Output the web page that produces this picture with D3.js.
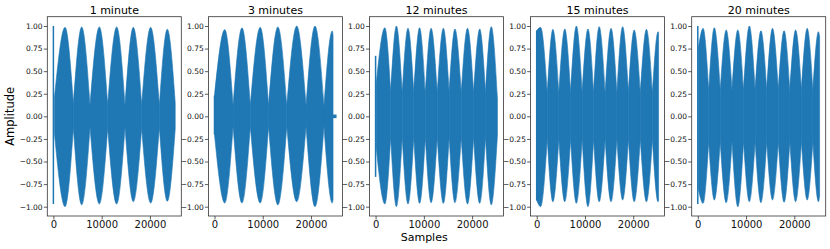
<!DOCTYPE html>
<html>
<head>
<meta charset="utf-8">
<script src="https://cdn.jsdelivr.net/npm/d3@7"></script>
<style>
  body { margin: 0; background: #fff; }
  svg { display: block; font-family: "DejaVu Sans", sans-serif; }
</style>
</head>
<body>
<div id="container"></div>
<script>
/**
 * CONSTANTS AND GLOBALS
 * */
const width = 830,
    height = 249,
    margin = { top: 16.7, bottom: 33, left: 47.3 },
    panelWidth = 134,
    panelStep = 161.1;
const waveColor = "#1f77b4";

/* DATA */
const titles = ["1 minute", "3 minutes", "12 minutes", "15 minutes", "20 minutes"];
const yTicks = [-1, -0.75, -0.5, -0.25, 0, 0.25, 0.5, 0.75, 1];
const xTicks = [0, 10000, 20000];

// envelope knots: edge, peak, dip, peak, dip, ..., edge (sample index)
const knots1 = [200, 2415, 4140, 5866, 7590, 9524, 11250, 13110, 14840, 16560, 18290, 20150, 21950, 23600, 25240];
const upper1 = [0.2, 0.985, 0.14, 0.99, 0.12, 0.99, 0.13, 0.99, 0.12, 0.985, 0.13, 0.985, 0.12, 0.965, 0.15];
const lower1 = [-0.18, -1.0, -0.13, -0.98, -0.12, -0.97, -0.13, -0.97, -0.12, -0.945, -0.13, -0.96, -0.12, -0.94, -0.14];

const knots2 = [0, 2130, 3850, 5700, 7420, 9480, 11200, 13130, 14980, 17040, 18970, 20820, 22680, 24400, 24560];
const upper2 = [0.23, 0.96, 0.12, 0.98, 0.12, 0.985, 0.12, 0.99, 0.12, 1.0, 0.12, 1.0, 0.12, 0.945, 0.9];
const lower2 = [-0.2, -0.96, -0.11, -0.96, -0.11, -0.96, -0.11, -0.98, -0.11, -0.945, -0.11, -1.0, -0.11, -0.96, -0.92];

const knots3 = [120, 1920, 3120, 4315, 5510, 6710, 7910, 9110, 10300, 11500, 12770, 14040, 15240, 16440, 17740, 19040, 20300, 21575, 22770, 23970, 25240];
const upper3 = [0.36, 0.98, 0.26, 1.0, 0.26, 0.975, 0.26, 0.98, 0.26, 0.975, 0.26, 0.975, 0.26, 0.967, 0.26, 0.975, 0.26, 0.967, 0.26, 0.993, 0.2];
const lower3 = [-0.34, -0.97, -0.23, -1.0, -0.23, -0.97, -0.23, -0.963, -0.23, -0.956, -0.23, -0.963, -0.23, -0.956, -0.23, -0.97, -0.23, -0.963, -0.23, -0.98, -0.21];

const knots4 = [0, 820, 2190, 3356, 4590, 5820, 7020, 8220, 9420, 10620, 11790, 12950, 14180, 15410, 16610, 17810, 19000, 20200, 21470, 22740, 23970, 25150, 25250];
const upper4 = [0.95, 0.985, 0.26, 0.963, 0.26, 0.967, 0.26, 1.0, 0.26, 0.967, 0.26, 0.993, 0.26, 0.974, 0.26, 0.993, 0.26, 0.956, 0.26, 0.963, 0.26, 0.937, 0.93];
const lower4 = [-0.93, -1.0, -0.25, -0.945, -0.25, -0.945, -0.25, -0.963, -0.25, -1.0, -0.25, -0.945, -0.25, -0.945, -0.25, -0.926, -0.25, -0.945, -0.25, -0.945, -0.25, -0.945, -0.93];

const knots5 = [100, 1100, 2260, 3420, 4650, 5890, 7090, 8290, 9480, 10680, 11880, 13080, 14280, 15480, 16680, 17880, 19070, 20270, 21470, 22670, 23840, 25000, 25240];
const upper5 = [0.75, 0.974, 0.29, 0.98, 0.29, 0.956, 0.29, 0.956, 0.29, 1.0, 0.29, 0.948, 0.29, 0.974, 0.29, 0.948, 0.29, 0.956, 0.29, 0.974, 0.29, 0.937, 0.88];
const lower5 = [-0.8, -0.963, -0.28, -0.926, -0.28, -0.956, -0.28, -1.0, -0.28, -0.945, -0.28, -0.956, -0.28, -0.926, -0.28, -0.952, -0.28, -0.945, -0.28, -0.926, -0.28, -0.945, -0.88];

// thin spike at sample 0 in each recording
const spikeUpper = [1.0, 0.23, 0.67, 0.95, 1.0];
const spikeLower = [-0.97, -0.2, -0.67, -0.93, -0.97];

// near-silent tail at the end of the 3 minute recording
const tailSamples2 = [24560, 25290];
const tailAmp2 = [0.02, 0.02];

const panels = [
    { knots: knots1, upper: upper1, lower: lower1 },
    { knots: knots2, upper: upper2, lower: lower2, tail: tailSamples2, tailAmp: tailAmp2 },
    { knots: knots3, upper: upper3, lower: lower3 },
    { knots: knots4, upper: upper4, lower: lower4 },
    { knots: knots5, upper: upper5, lower: lower5 }
];

/* SVG */
const svg = d3.select("#container")
    .append("svg")
    .attr("width", width)
    .attr("height", height);

svg.append("rect")
    .attr("width", width)
    .attr("height", height)
    .attr("fill", "#fff");

const yScale = d3.scaleLinear()
    .domain([-1.103, 1.103])
    .range([height - margin.bottom, margin.top]);

panels.forEach((p, i) => {
    const left = margin.left + i * panelStep;
    const xScale = d3.scaleLinear()
        .domain([-1262, 26500])
        .range([left, left + panelWidth]);

    const g = svg.append("g").attr("class", "panel");

    const area = d3.area()
        .x(d => xScale(d.s))
        .y0(d => yScale(d.lo))
        .y1(d => yScale(d.hi))
        .curve(d3.curveMonotoneX);

    /* one lobe per edge/peak/edge triplet */
    const lobes = [];
    for (let k = 0; k + 2 < p.knots.length; k += 2) {
        lobes.push([k, k + 1, k + 2].map(j => ({ s: p.knots[j], hi: p.upper[j], lo: p.lower[j] })));
    }
    g.selectAll("path.lobe")
        .data(lobes)
        .join("path")
        .attr("class", "lobe")
        .attr("fill", waveColor)
        .attr("stroke", waveColor)
        .attr("stroke-width", 0.6)
        .attr("stroke-linejoin", "round")
        .attr("d", d => area(d));

    if (p.tail) {
        g.append("path")
            .attr("fill", waveColor)
            .attr("d", d3.area()
                .x(d => xScale(d.s))
                .y0(d => yScale(-d.a))
                .y1(d => yScale(d.a))(p.tail.map((s, j) => ({ s: s, a: p.tailAmp[j] }))));
    }

    g.append("line")
        .attr("x1", xScale(0)).attr("x2", xScale(0))
        .attr("y1", yScale(spikeUpper[i]))
        .attr("y2", yScale(spikeLower[i]))
        .attr("stroke", waveColor)
        .attr("stroke-width", 1.5);

    /* axes */
    const yAxis = d3.axisLeft(yScale)
        .tickValues(yTicks)
        .tickFormat(d3.format(".2f"))
        .tickSize(3.5)
        .tickPadding(1.2);
    const yg = svg.append("g")
        .attr("transform", `translate(${left},0)`)
        .call(yAxis);
    yg.select(".domain").remove();
    yg.selectAll("text").attr("font-size", 7.5).attr("fill", "#111").attr("font-family", "DejaVu Sans");
    yg.selectAll("line").attr("stroke", "#333").attr("stroke-width", 0.8);

    const xAxis = d3.axisBottom(xScale)
        .tickValues(xTicks)
        .tickFormat(d3.format("d"))
        .tickSize(3.5)
        .tickPadding(1.5);
    const xg = svg.append("g")
        .attr("transform", `translate(0,${height - margin.bottom})`)
        .call(xAxis);
    xg.select(".domain").remove();
    xg.selectAll("text").attr("font-size", 10).attr("fill", "#111").attr("font-family", "DejaVu Sans");
    xg.selectAll("line").attr("stroke", "#333").attr("stroke-width", 0.8);

    // frame
    svg.append("rect")
        .attr("x", left)
        .attr("y", margin.top)
        .attr("width", panelWidth)
        .attr("height", height - margin.bottom - margin.top)
        .attr("fill", "none")
        .attr("stroke", "#333")
        .attr("stroke-width", 0.8);

    svg.append("text")
        .attr("x", left + panelWidth / 2)
        .attr("y", 13.8)
        .attr("text-anchor", "middle")
        .attr("font-size", 11)
        .text(titles[i]);
});

svg.append("text")
    .attr("transform", "translate(14,116.3) rotate(-90)")
    .attr("text-anchor", "middle")
    .attr("font-size", 11.5)
    .text("Amplitude");

svg.append("text")
    .attr("x", 424.2)
    .attr("y", 241.3)
    .attr("text-anchor", "middle")
    .attr("font-size", 11)
    .text("Samples");
</script>
</body>
</html>
